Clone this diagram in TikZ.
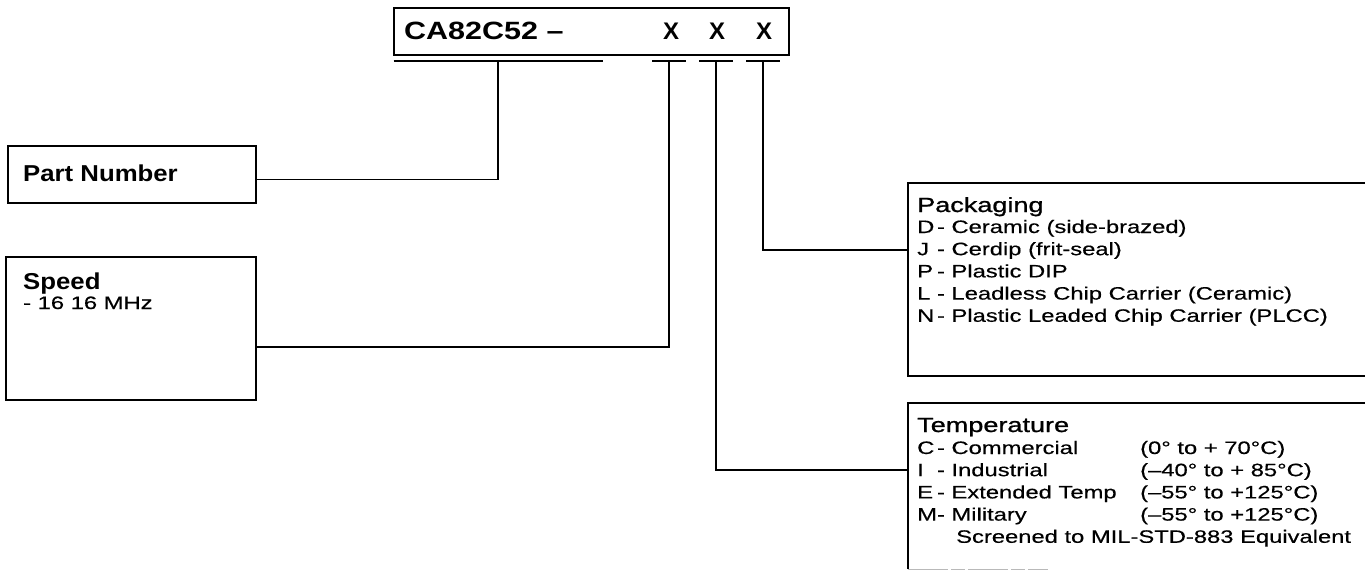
\documentclass[tikz,border=0pt]{standalone}
\usepackage{fontspec}
\setmainfont{Liberation Sans}
\newfontfamily\bodyf{Liberation Sans}[FakeStretch=1.32, FakeBold=0.4]
\newfontfamily\headf{Liberation Sans}[FakeStretch=1.32, FakeBold=1.0]
\newfontfamily\labf{Liberation Sans}[FakeStretch=1.12]
\newfontfamily\titf{Liberation Sans}[FakeStretch=1.22]
\newcommand\ltr[1]{\makebox[1.1em][l]{#1}}
\usetikzlibrary{calc}
\begin{document}
\begin{tikzpicture}[x=1pt,y=-1pt,
  box/.style={draw, line width=1.7pt, inner sep=0pt, outer sep=0pt, anchor=north west},
  openbox/.style={inner sep=0pt, outer sep=0pt, anchor=north west},
  link/.style={line width=1.6pt},
  ubar/.style={inner sep=0pt, outer sep=0pt, minimum height=0pt},
  thickbar/.style={line width=2.4pt},
  thinbar/.style={line width=1.7pt},
  ttl/.style={inner sep=0pt, anchor=base west, font=\titf\bfseries\fontsize{25}{29}\selectfont},
  xmark/.style={inner sep=0pt, anchor=base, font=\bfseries\fontsize{24}{28}\selectfont},
  lab/.style={inner sep=0pt, anchor=base west, font=\labf\bfseries\fontsize{23}{27}\selectfont},
  head/.style={inner sep=0pt, anchor=base west, font=\headf\fontsize{20.5}{25}\selectfont},
  body/.style={inner sep=0pt, anchor=base west, font=\bodyf\fontsize{18}{22.2}\selectfont},
]
\clip (0,0) rectangle (1365,575);
\fill[white] (0,0) rectangle (1365,575);

% ---- top code box
\node[box, minimum width=395pt, minimum height=47pt] (code) at (394,8) {};
\node[ttl] (codetxt) at (404,40) {CA82C52 –};
\node[xmark] (x1) at (671,40) {X};
\node[xmark] (x2) at (717,40) {X};
\node[xmark] (x3) at (764,40) {X};

% ---- underlines
\node[ubar, minimum width=209pt] (u0) at (498,61) {};
\node[ubar, minimum width=34pt] (u1) at (669,61) {};
\node[ubar, minimum width=34pt] (u2) at (716,61) {};
\node[ubar, minimum width=34pt] (u3) at (763,61) {};
\draw[thickbar] (u0.west) -- (u0.east);
\draw[thinbar] (u1.west) -- (u1.east);
\draw[thinbar] (u2.west) -- (u2.east);
\draw[thinbar] (u3.west) -- (u3.east);

% ---- left boxes
\node[box, minimum width=248pt, minimum height=57pt] (pn) at (8,146) {};
\node[lab] (pntxt) at (23,181) {Part Number};

\node[box, minimum width=250pt, minimum height=143pt] (sp) at (6,257) {};
\node[lab] (sptxt) at (23,289) {Speed};
\node[body] (spval) at (23,309) {- 16 16 MHz};

% ---- packaging box
\node[box, minimum width=472pt, minimum height=193pt] (pk) at (908,183) {};
\node[head] (pkhead) at (917,212) {Packaging};
\node[body] (pklist) at (917,233) {\begin{tabular}[t]{@{}l@{}}
\ltr{D}- Ceramic (side-brazed)\\
\ltr{J}- Cerdip (frit-seal)\\
\ltr{P}- Plastic DIP\\
\ltr{L}- Leadless Chip Carrier (Ceramic)\\
\ltr{N}- Plastic Leaded Chip Carrier (PLCC)
\end{tabular}};

% ---- temperature box
\node[openbox, minimum width=472pt, minimum height=166pt] (tp) at (908,403) {};
\draw[line width=1.7pt] (tp.south west) -- (tp.north west) -- (tp.north east);
\draw[gray!55, line width=1pt, dash pattern=on 40pt off 3pt on 14pt off 3pt] (tp.south west) -- ++(140,0);
\node[head] (tphead) at (917,432) {Temperature};
\node[body] (tplist) at (917,454) {\begin{tabular}[t]{@{}l@{}l@{}}
\makebox[223pt][l]{\ltr{C}- Commercial} & (0° to + 70°C)\\
\makebox[223pt][l]{\ltr{I}- Industrial} & (–40° to + 85°C)\\
\makebox[223pt][l]{\ltr{E}- Extended Temp} & (–55° to +125°C)\\
\makebox[223pt][l]{M- Military} & (–55° to +125°C)\\
\multicolumn{2}{@{}l@{}}{\hspace{39pt}Screened to MIL-STD-883 Equivalent}
\end{tabular}};

% ---- connectors
\draw[link] (u0.center) |- ([yshift=-5pt]pn.east);
\draw[link] (u1.center) |- ([yshift=-18.5pt]sp.east);
\draw[link] (u3.center) |- ([yshift=29.5pt]pk.west);
\draw[link] (u2.center) |- ([yshift=16pt]tp.west);
\end{tikzpicture}
\end{document}
